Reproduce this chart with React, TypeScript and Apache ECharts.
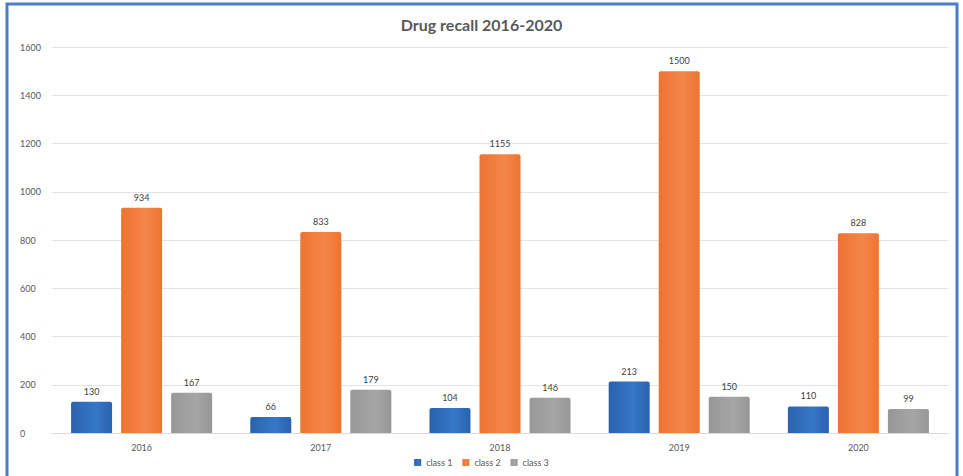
import React, { useEffect, useRef } from "react";
import * as echarts from "echarts";

const categories = ["2016", "2017", "2018", "2019", "2020"];
const class1 = [130, 66, 104, 213, 110];
const class2 = [934, 833, 1155, 1500, 828];
const class3 = [167, 179, 146, 150, 99];
const seriesNames = ["class 1", "class 2", "class 3"];

const grad = (c1: string, c2: string) =>
  new echarts.graphic.LinearGradient(0, 0, 1, 0, [
    { offset: 0, color: c1 },
    { offset: 0.6, color: c2 },
    { offset: 1, color: c1 },
  ]);

export default function App() {
  const ref = useRef<HTMLDivElement>(null);
  useEffect(() => {
    if (!ref.current) return;
    const chart = echarts.init(ref.current, undefined, { renderer: "svg" });
    const labelStyle = {
      show: true,
      position: "top" as const,
      fontSize: 9,
      color: "#404040",
      fontFamily: "Lato",
      distance: 6,
    };
    chart.setOption({
      animation: false,
      backgroundColor: "#ffffff",
      textStyle: { fontFamily: "Lato" },
      title: {
        text: "Drug recall 2016-2020",
        left: "center",
        top: 11,
        textStyle: { fontSize: 16, fontWeight: "bold", color: "#595959", fontFamily: "Lato" },
      },
      graphic: [
        {
          type: "rect",
          shape: { x: 7, y: 4, width: 950, height: 480 },
          style: { fill: "none", stroke: "#4a7ec7", lineWidth: 3 },
          z: 100,
        },
      ],
      legend: {
        bottom: 4,
        left: "center",
        itemWidth: 7,
        itemHeight: 7,
        itemGap: 10,
        icon: "rect",
        textStyle: { fontSize: 9, color: "#595959", fontFamily: "Lato" },
        data: seriesNames,
      },
      grid: { left: 52, right: 15, top: 47, bottom: 43 },
      xAxis: {
        type: "category",
        data: categories,
        axisLine: { lineStyle: { color: "#d9d9d9" } },
        axisTick: { show: false },
        axisLabel: { fontSize: 9, color: "#595959", margin: 10 },
      },
      yAxis: {
        type: "value",
        min: 0,
        max: 1600,
        interval: 200,
        axisLine: { show: false },
        axisTick: { show: false },
        axisLabel: {
          fontSize: 9,
          color: "#595959",
          margin: 32,
          align: "left",
          formatter: (v: number) => String(v),
        },
        splitLine: { lineStyle: { color: "#e3e3e3" } },
      },
      series: [
        {
          name: seriesNames[0],
          type: "bar",
          data: class1,
          barWidth: 41,
          barGap: "22%",
          itemStyle: { color: grad("#2a62ad", "#3677c8"), borderRadius: [2, 2, 0, 0] },
          label: labelStyle,
        },
        {
          name: seriesNames[1],
          type: "bar",
          data: class2,
          barWidth: 41,
          barGap: "22%",
          itemStyle: { color: grad("#ee7330", "#f4864a"), borderRadius: [2, 2, 0, 0] },
          label: labelStyle,
        },
        {
          name: seriesNames[2],
          type: "bar",
          data: class3,
          barWidth: 41,
          barGap: "22%",
          itemStyle: { color: grad("#979797", "#a6a6a6"), borderRadius: [2, 2, 0, 0] },
          label: labelStyle,
        },
      ],
      color: ["#2f6fbd", "#f07a36", "#9e9e9e"],
    });
    return () => chart.dispose();
  }, []);
  return (
    <div
      ref={ref}
      style={{ position: "absolute", left: 0, top: 0, width: 963, height: 476 }}
    />
  );
}
